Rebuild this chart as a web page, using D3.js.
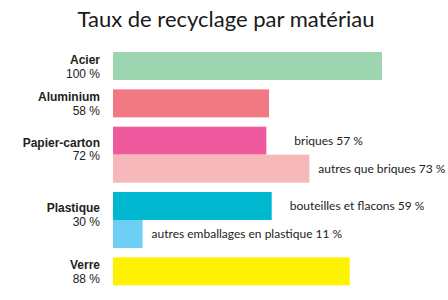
<!DOCTYPE html>
<html>
<head>
<meta charset="utf-8">
<script src="https://cdn.jsdelivr.net/npm/d3@7"></script>
<style>
  body { margin: 0; background: #fff; }
  svg { display: block; }
</style>
</head>
<body>
<div id="chart"></div>
<script>
// materials (groups) and their overall rates
const materials = ['Acier', 'Aluminium', 'Papier-carton', 'Plastique', 'Verre'];
const materialRates = [100, 58, 72, 30, 88];

// bars: one or two per material
const barMaterial = ['Acier', 'Aluminium', 'Papier-carton', 'Papier-carton', 'Plastique', 'Plastique', 'Verre'];
const barLabels = ['', '', 'briques', 'autres que briques', 'bouteilles et flacons', 'autres emballages en plastique', ''];
const barValues = [100, 58, 57, 73, 59, 11, 88];
const barColors = ['#9dd5b0', '#f07984', '#ef5a9f', '#f7b8bc', '#00b9d0', '#6dcff6', '#fff200'];
const labelGaps = [0, 0, 28, 9, 18, 9, 0];

const width = 448, height = 300;
const margin = {top: 52, left: 113};
const barWidth = 269;

const svg = d3.select('#chart').append('svg')
  .attr('width', width)
  .attr('height', height);

// title
svg.append('text')
  .attr('x', 226)
  .attr('y', 27)
  .attr('text-anchor', 'middle')
  .style('font-family', 'Lato, sans-serif')
  .style('font-size', '22px')
  .style('fill', '#1a1a1a')
  .text('Taux de recyclage par matériau');

// vertical layout in slot units: each bar 1 unit, gap between materials 1/3 unit
const slotStart = [];
let pos = 0;
barMaterial.forEach((m, i) => {
  if (i > 0 && m !== barMaterial[i - 1]) pos += 1 / 3;
  slotStart.push(pos);
  pos += 1;
});
const y = d3.scaleLinear().domain([0, pos]).range([margin.top, margin.top + pos * 28]);
const x = d3.scaleLinear().domain([0, 100]).range([margin.left, margin.left + barWidth]);

const bars = barValues.map((v, i) => ({
  value: v, material: barMaterial[i], label: barLabels[i],
  color: barColors[i], gap: labelGaps[i], slot: slotStart[i]
}));

// bars
svg.append('g')
  .attr('class', 'bars')
  .selectAll('rect')
  .data(bars)
  .enter().append('rect')
    .attr('x', x(0))
    .attr('y', d => y(d.slot))
    .attr('width', d => x(d.value) - x(0))
    .attr('height', d => y(d.slot + 1) - y(d.slot))
    .style('fill', d => d.color);

// sub-bar labels
svg.append('g')
  .attr('class', 'sub-labels')
  .selectAll('text')
  .data(bars.filter(d => d.label))
  .enter().append('text')
    .attr('x', d => x(d.value) + d.gap)
    .attr('y', d => y(d.slot + 0.5))
    .attr('dy', '0.35em')
    .style('font-family', 'Lato, sans-serif')
    .style('font-size', '12px')
    .style('fill', '#222')
    .text(d => d.label + ' ' + d.value + ' %');

// material labels
const groups = materials.map((m, i) => {
  const slots = bars.filter(d => d.material === m).map(d => d.slot);
  return {name: m, rate: materialRates[i], top: d3.min(slots), n: slots.length};
});

const labels = svg.append('g')
  .attr('class', 'material-labels')
  .selectAll('g')
  .data(groups)
  .enter().append('g')
    .attr('transform', d => {
      const ty = d.n > 1 ? y(d.top + d.n / 2) - 8 : y(d.top) + 12;
      return 'translate(100,' + ty + ')';
    });

labels.append('text')
  .attr('text-anchor', 'end')
  .style('font-family', '"Liberation Sans", Arial, sans-serif')
  .style('font-size', '12px')
  .style('font-weight', 'bold')
  .style('fill', '#222')
  .text(d => d.name);

labels.append('text')
  .attr('y', 13.5)
  .attr('text-anchor', 'end')
  .style('font-family', '"Liberation Sans", Arial, sans-serif')
  .style('font-size', '12px')
  .style('fill', '#222')
  .text(d => d.rate + ' %');
</script>
</body>
</html>
